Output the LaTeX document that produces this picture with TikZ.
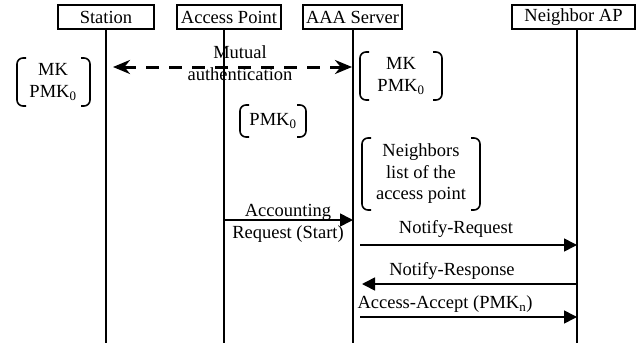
\documentclass[tikz,border=0pt]{standalone}
\usepackage{fontspec}
\setmainfont{Liberation Serif}
\usetikzlibrary{arrows.meta}

\tikzset{
  entity/.style={draw, line width=1.5pt, minimum height=24pt, inner sep=0pt},
  lifeline/.style={line width=1.7pt},
  msg/.style={line width=1.6pt, -{Triangle[length=13pt,width=13pt]}},
  mutual/.style={line width=3pt, dash pattern=on 13pt off 10pt,
    {Stealth[length=17pt,width=14pt]}-{Stealth[length=17pt,width=14pt]}},
  keys/.style={align=center, inner sep=0pt},
  lbl/.style={inner sep=0pt},
  bracket/.style={line width=1.6pt, rounded corners=6pt}
}

% bracket pair: left x, top y, right x, bottom y
\newcommand{\keybrackets}[4]{%
  \draw[bracket] (#1+9,#2) -- (#1,#2) -- (#1,#4) -- (#1+9,#4);
  \draw[bracket] (#3-9,#2) -- (#3,#2) -- (#3,#4) -- (#3-9,#4);}

\begin{document}
\begin{tikzpicture}[x=1pt, y=-1pt, font=\fontsize{18.5}{21.5}\selectfont]
    \useasboundingbox (0,0) rectangle (639,343);

    % entities
    \node[entity, minimum width=96pt] (station) at (106,17) {Station};
    \node[entity, minimum width=104pt] (ap) at (229,17) {Access Point};
    \node[entity, minimum width=99pt] (aaa) at (352.5,17) {AAA Server};
    \node[entity, minimum width=123pt] (nap) at (573.5,17) {Neighbor AP};

    % lifelines
    \coordinate (station-top) at (106,29);
    \coordinate (station-end) at (106,343);
    \coordinate (ap-top) at (224,29);
    \coordinate (ap-end) at (224,343);
    \coordinate (aaa-top) at (353,29);
    \coordinate (aaa-end) at (353,343);
    \coordinate (nap-top) at (577,29);
    \coordinate (nap-end) at (577,343);
    \draw[lifeline] (station-top) -- (station-end);
    \draw[lifeline] (ap-top) -- (ap-end);
    \draw[lifeline] (aaa-top) -- (aaa-end);
    \draw[lifeline] (nap-top) -- (nap-end);

    % mutual authentication
    \coordinate (auth-st) at (113,67);
    \coordinate (auth-aaa) at (352,67);
    \draw[mutual] (auth-st) -- (auth-aaa);
    \node[keys] (auth) at (240,63) {Mutual\\authentication};

    % keys
    \keybrackets{17}{58}{90}{106}
    \node[keys] (st-keys) at (53,82) {MK\\PMK\textsubscript{0}};
    \keybrackets{360}{52}{442}{100}
    \node[keys] (aaa-keys) at (401,76) {MK\\PMK\textsubscript{0}};
    \keybrackets{240}{105}{306}{137}
    \node[keys] (ap-keys) at (273,121) {PMK\textsubscript{0}};
    \keybrackets{362}{138}{480}{210}
    \node[keys] (nbr-list) at (421,174) {Neighbors\\list of the\\access point};

    % messages
    \coordinate (acc-ap) at (224,220);
    \coordinate (acc-aaa) at (353,220);
    \draw[msg] (acc-ap) -- (acc-aaa);
    \node[lbl] (acc-top) at (288,212) {Accounting};
    \node[lbl] (acc-bot) at (288,234) {Request (Start)};

    \coordinate (nreq-aaa) at (360,245);
    \coordinate (nreq-nap) at (577,245);
    \draw[msg] (nreq-aaa) -- (nreq-nap);
    \node[lbl] (nreq) at (456,229) {Notify-Request};

    \coordinate (nres-nap) at (577,284);
    \coordinate (nres-aaa) at (362,284);
    \draw[msg] (nres-nap) -- (nres-aaa);
    \node[lbl] (nres) at (452,271) {Notify-Response};

    \coordinate (acpt-aaa) at (360,317);
    \coordinate (acpt-nap) at (577,317);
    \draw[msg] (acpt-aaa) -- (acpt-nap);
    \node[lbl] (acpt) at (445,304) {Access-Accept (PMK\textsubscript{n})};
\end{tikzpicture}
\end{document}
